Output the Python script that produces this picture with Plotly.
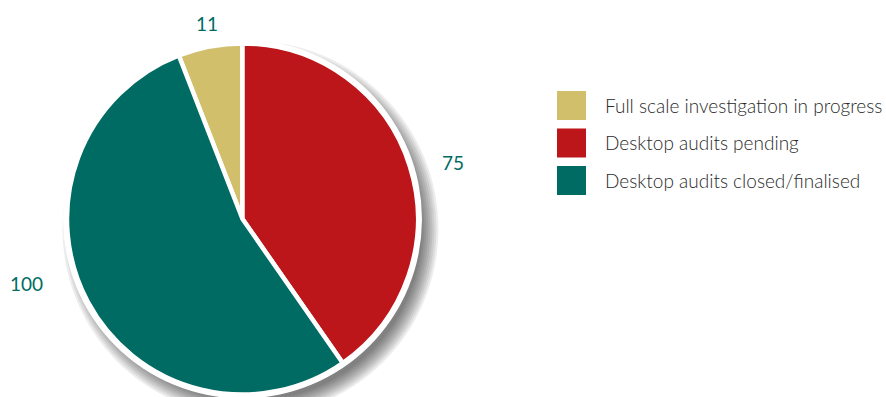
import plotly.graph_objects as go

# Case status counts
categories = [
    "Full scale investigation in progress",
    "Desktop audits pending",
    "Desktop audits closed/finalised",
]
counts = [11, 75, 100]
colors = ["#D2BF6C", "#BC151A", "#006B62"]
label_color = "#006B62"
text_color = "#2A2A2A"

W, H = 886, 397
FONT = "Lato, 'Open Sans', sans-serif"

# Pie geometry (pixels)
cx, cy = 242.5, 219.0
r_pie = 175.5
r_rim = 179.5


def px(x):
    return x / W


def py(y):
    return 1 - y / H


fig = go.Figure()

# First slice ends at 12 o'clock; slices run clockwise
rotation = -360.0 * counts[0] / sum(counts)

fig.add_trace(go.Pie(
    labels=categories,
    values=counts,
    sort=False,
    direction="clockwise",
    rotation=rotation,
    marker=dict(colors=colors, line=dict(color="white", width=4.5)),
    textinfo="none",
    hoverinfo="skip",
    showlegend=False,
    domain=dict(x=[px(cx - r_pie), px(cx + r_pie)],
                y=[py(cy + r_pie), py(cy - r_pie)]),
))

shapes = []
# Soft drop shadow: stacked translucent discs offset down-right
sx, sy = cx + 8, cy + 10
for k in range(9):
    r = 172 + 2 * k
    shapes.append(dict(
        type="circle", xref="paper", yref="paper", layer="below",
        x0=px(sx - r), x1=px(sx + r), y0=py(sy + r), y1=py(sy - r),
        fillcolor="rgba(0,0,0,0.07)", line=dict(width=0),
    ))
# White rim around the pie
shapes.append(dict(
    type="circle", xref="paper", yref="paper", layer="below",
    x0=px(cx - r_rim), x1=px(cx + r_rim), y0=py(cy + r_rim), y1=py(cy - r_rim),
    fillcolor="white", line=dict(width=0),
))

# Legend drawn as swatches with text
leg_x0, leg_y0, sw, step = 557, 91, 29, 37.5
annotations = []
for i, (name, col) in enumerate(zip(categories, colors)):
    y_top = leg_y0 + i * step
    shapes.append(dict(
        type="rect", xref="paper", yref="paper",
        x0=px(leg_x0), x1=px(leg_x0 + sw), y0=py(y_top + sw), y1=py(y_top),
        fillcolor=col, line=dict(width=0),
    ))
    annotations.append(dict(
        x=px(603), y=py(y_top + sw / 2), xref="paper", yref="paper",
        xanchor="left", yanchor="middle", showarrow=False,
        text=name, font=dict(family=FONT, size=19, weight=300, color=text_color),
    ))

# Slice value labels
label_pos = [(207, 23), (453, 162), (26, 283)]
for v, (lx, ly) in zip(counts, label_pos):
    annotations.append(dict(
        x=px(lx), y=py(ly), xref="paper", yref="paper",
        xanchor="center", yanchor="middle", showarrow=False,
        text=str(v), font=dict(family=FONT, size=19, weight=400, color=label_color),
    ))

fig.update_layout(
    width=W, height=H,
    margin=dict(l=0, r=0, t=0, b=0),
    paper_bgcolor="white",
    plot_bgcolor="white",
    shapes=shapes,
    annotations=annotations,
)

fig.write_html("out.html")
